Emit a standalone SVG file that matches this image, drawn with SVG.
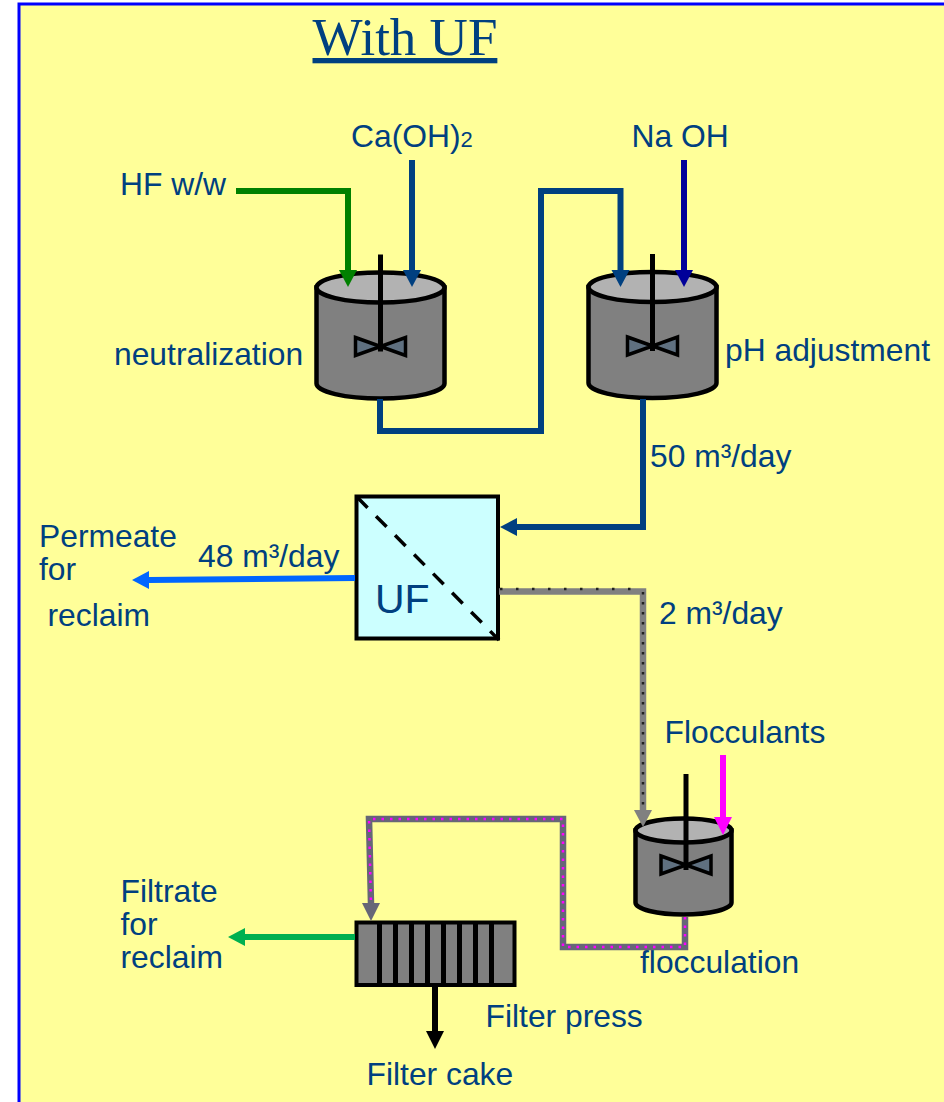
<svg xmlns="http://www.w3.org/2000/svg" width="944" height="1102" viewBox="0 0 944 1102">
<style>
.t{font-family:"Liberation Sans",Arial,sans-serif;font-size:31.8px;fill:#004080}
.title{font-family:"Liberation Serif","Times New Roman",serif;font-size:53px;fill:#004080;text-decoration:underline}
.c{fill:none;stroke-width:6}
.body{fill:#808080;stroke:#000;stroke-width:4.500}
.lid{fill:#b2b2b2;stroke:#000;stroke-width:4.500}
.shaft{stroke:#000;stroke-width:5;fill:none}
.blade{fill:#5f7080;stroke:#000;stroke-width:3.500}
.navy{stroke:#004080}
</style>
<defs>
<g id="tank">
<path class="body" d="M-64,0V96A64,15 0 0 0 64,96V0Z"/>
<ellipse class="lid" cx="0" cy="0" rx="64" ry="15"/>
<path class="blade" d="M-25,50L25,68V50L-25,68Z"/>
<path class="shaft" d="M0,-33V64"/>
</g>
</defs>
<rect x="19" y="4" width="940" height="1110" fill="#ffff99" stroke="#0000ff" stroke-width="3"/>
<text class="title" x="312.500" y="55">With UF</text>

<g id="tank-neutralization"><use href="#tank" transform="translate(380.500,287.500)"/><text class="t" x="114" y="365">neutralization</text></g>
<g id="tank-ph"><use href="#tank" transform="translate(652.500,287)"/><text class="t" x="725" y="361">pH adjustment</text></g>
<g id="tank-flocculation">
<path class="body" d="M-48,0V72A48,12 0 0 0 48,72V0Z" transform="translate(683.500,830.500)"/>
<ellipse class="lid" cx="683.500" cy="830.500" rx="48" ry="12"/>
<path class="blade" d="M661,856L711,874V856L661,874Z"/>
<path class="shaft" d="M686,774V870"/>
<text class="t" x="640" y="973">flocculation</text>
</g>
<g id="uf"><rect x="356.500" y="496.500" width="141.500" height="142" fill="#ccffff" stroke="#000" stroke-width="4"/><path d="M357,497L499,640" stroke="#000" stroke-width="3.500" stroke-dasharray="15 12" fill="none"/><text class="t" x="375" y="613" style="font-size:41px">UF</text></g>
<g id="filter-press">
<rect x="356.500" y="922.500" width="158" height="62.500" fill="#808080" stroke="#000" stroke-width="4"/>
<path d="M379.500,922V986M395.500,922V986M411.500,922V986M427.500,922V986M443.500,922V986M459.500,922V986M475.500,922V986M491.500,922V986" stroke="#000" stroke-width="5"/>
<text class="t" x="485.500" y="1027">Filter press</text>
</g>

<g id="connectors">
<path class="c" stroke="#008000" d="M236,191H348V270"/><path fill="#008000" d="M339,270H357L348,287Z"/>
<path class="c navy" d="M412,160V270"/><path fill="#004080" d="M403,270H421L412,287Z"/>
<path class="c navy" d="M380,399V431H541V191H620.500V270"/><path fill="#004080" d="M611.500,270H629.500L620.500,287Z"/>
<path class="c" stroke="#000099" d="M684,160V270"/><path fill="#000099" d="M675,270H693L684,287Z"/>
<path class="c navy" d="M643,399V527H517"/><path fill="#004080" d="M517,518V536L500,527Z"/>
<path class="c" stroke="#0066ff" d="M355,578L149,580"/><path fill="#0066ff" d="M149,571L149,589L132,580Z"/>
<path fill="none" stroke-width="6.500" stroke="#808080" d="M499,591.500H643V810"/><path d="M500,589H640" fill="none" stroke="#222" stroke-width="2.500" stroke-dasharray="2.500 13.500"/><path d="M643,592V810" fill="none" stroke="#222" stroke-width="2.500" stroke-dasharray="2.500 7.500"/><path fill="#808080" d="M634,810H652L643,827Z"/>
<path class="c" stroke="#ff00ff" d="M723,755V818"/><path fill="#ff00ff" d="M714,817H732L723,835Z"/>
<path fill="none" stroke-width="6.500" stroke="#666677" d="M685,917V947H563V819H369L371,904"/><path d="M685,917V947H563V819H369L371,904" fill="none" stroke="#ff00ff" stroke-width="2.500" stroke-dasharray="2.500 6"/><path fill="#666677" d="M362,903H380L371,921Z"/>
<path class="c" stroke="#00b050" d="M355,937H245"/><path fill="#00b050" d="M245,928V946L228,937Z"/>
<path class="c" stroke="#000" d="M435,986V1032"/><path fill="#000" d="M426,1031H444L435,1049Z"/>
</g>

<g id="labels">
<text class="t" x="351" y="147">Ca(OH)<tspan style="font-size:22px">2</tspan></text>
<text class="t" x="120" y="195">HF w/w</text>
<text class="t" x="631.500" y="147">Na OH</text>
<text class="t" x="650" y="467">50 m³/day</text>
<text class="t" x="39" y="547">Permeate</text>
<text class="t" x="39" y="580">for</text>
<text class="t" x="47.500" y="626">reclaim</text>
<text class="t" x="198" y="567">48 m³/day</text>
<text class="t" x="659" y="624">2 m³/day</text>
<text class="t" x="664.500" y="743">Flocculants</text>
<text class="t" x="120.500" y="902">Filtrate</text>
<text class="t" x="120.500" y="935">for</text>
<text class="t" x="120.500" y="968">reclaim</text>
<text class="t" x="366.500" y="1085">Filter cake</text>
</g>
</svg>
